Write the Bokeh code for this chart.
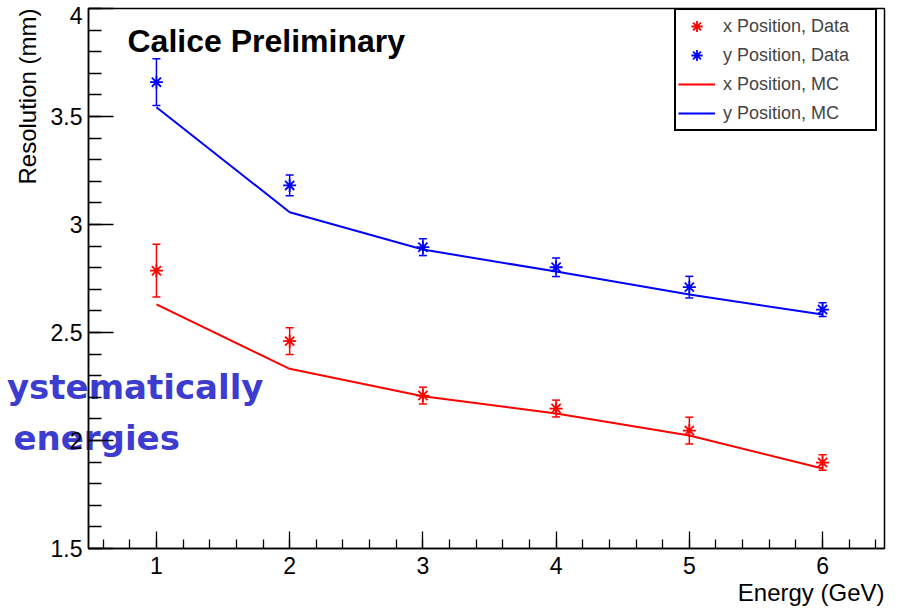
import math
from bokeh.plotting import figure
from bokeh.models import (ColumnDataSource, Whisker, TeeHead, Label, Legend, LegendItem,
                          FixedTicker, Range1d, CustomJSTickFormatter, Title)
from bokeh.embed import file_html
from bokeh.resources import INLINE

# ---- data ----
energy = [1, 2, 3, 4, 5, 6]
x_pos_data = [2.786, 2.460, 2.208, 2.148, 2.046, 1.898]
x_pos_err = [0.122, 0.062, 0.039, 0.039, 0.062, 0.036]
y_pos_data = [3.659, 3.181, 2.895, 2.802, 2.710, 2.606]
y_pos_err = [0.108, 0.048, 0.039, 0.043, 0.050, 0.032]
x_pos_mc = [2.630, 2.332, 2.205, 2.125, 2.023, 1.870]
y_pos_mc = [3.543, 3.057, 2.884, 2.782, 2.676, 2.583]

x_tick_values = [1, 2, 3, 4, 5, 6]
y_tick_values = [1.5, 2.0, 2.5, 3.0, 3.5, 4.0]
legend_labels = ["x Position, Data", "y Position, Data", "x Position, MC", "y Position, MC"]

X0, X1 = 0.49, 6.465
Y0, Y1 = 1.5, 4.0
FONT = "Liberation Sans"
W, H = 899, 613

# frame edges in window pixels
FL, FR, FT, FB = 88, 884, 8, 548
# extra canvas on the left (scrolled out of the window) so that texts which
# cross the frame edge can be laid out beside the frame without being clipped
EXTRA = 512

def dx(px):
    return X0 + (px - FL) * (X1 - X0) / (FR - FL)
def dy(py):
    return Y1 - (py - FT) * (Y1 - Y0) / (FB - FT)

p = figure(width=W + EXTRA, height=H, output_backend="svg", toolbar_location=None,
           x_range=Range1d(X0, X1), y_range=Range1d(Y0, Y1),
           min_border_left=FL + EXTRA, min_border_right=W - FR, min_border_top=FT,
           min_border_bottom=H - FB, margin=(0, 0, 0, -EXTRA))
p.grid.visible = False
p.outline_line_color = "black"
p.outline_line_width = 1.5
p.background_fill_color = "white"
p.border_fill_color = "white"

x_minor = [round(0.6 + 0.2 * i, 2) for i in range(30) if 0.6 + 0.2 * i < X1]
y_minor = [round(1.5 + 0.1 * i, 2) for i in range(26)]
p.xaxis.ticker = FixedTicker(ticks=x_tick_values, minor_ticks=x_minor)
p.yaxis.ticker = FixedTicker(ticks=y_tick_values, minor_ticks=y_minor)
p.xaxis.formatter = CustomJSTickFormatter(code="return String(Math.round(tick*10)/10)")
# the top label "4" is drawn separately (it sits below the canvas top edge)
p.yaxis.formatter = CustomJSTickFormatter(
    code="return tick > 3.99 ? '' : String(Math.round(tick*10)/10)")

for ax in (p.xaxis, p.yaxis):
    ax.axis_line_color = "black"
    ax.axis_line_width = 1.5
    ax.major_tick_line_color = "black"
    ax.minor_tick_line_color = "black"
    ax.major_tick_line_width = 1.3
    ax.minor_tick_line_width = 1.3
    ax.major_tick_out = 0
    ax.minor_tick_out = 0
    ax.major_label_text_font = FONT
    ax.major_label_text_font_size = "23px"
    ax.major_label_text_color = "black"
p.xaxis.major_tick_in = 17
p.xaxis.minor_tick_in = 9
p.yaxis.major_tick_in = 25
p.yaxis.minor_tick_in = 13
p.xaxis.major_label_standoff = 8
p.yaxis.major_label_standoff = 6
# y axis (ticks and labels) is drawn over the overlaid slide text, as in the reference
p.yaxis.level = "overlay"

src = ColumnDataSource(dict(
    e=energy, xd=x_pos_data, yd=y_pos_data,
    xl=[v - e for v, e in zip(x_pos_data, x_pos_err)],
    xu=[v + e for v, e in zip(x_pos_data, x_pos_err)],
    yl=[v - e for v, e in zip(y_pos_data, y_pos_err)],
    yu=[v + e for v, e in zip(y_pos_data, y_pos_err)],
    xm=x_pos_mc, ym=y_pos_mc))

r_xmc = p.line("e", "xm", source=src, line_color="red", line_width=2)
r_ymc = p.line("e", "ym", source=src, line_color="blue", line_width=2)

for col, lo, hi in (("red", "xl", "xu"), ("blue", "yl", "yu")):
    w = Whisker(base="e", lower=lo, upper=hi, source=src, line_color=col, line_width=1.5,
                upper_head=TeeHead(size=8, line_color=col, line_width=1.5),
                lower_head=TeeHead(size=8, line_color=col, line_width=1.5))
    p.add_layout(w)

r_xd = p.scatter("e", "xd", source=src, marker="asterisk", size=13,
                 line_color="red", line_width=1.8)
r_yd = p.scatter("e", "yd", source=src, marker="asterisk", size=13,
                 line_color="blue", line_width=1.8)

legend = Legend(items=[LegendItem(label=legend_labels[0], renderers=[r_xd]),
                       LegendItem(label=legend_labels[1], renderers=[r_yd]),
                       LegendItem(label=legend_labels[2], renderers=[r_xmc]),
                       LegendItem(label=legend_labels[3], renderers=[r_ymc])],
                location=(674 - FL, FB - 131), orientation="vertical",
                label_text_font=FONT, label_text_font_size="18px",
                glyph_width=37, glyph_height=28, label_height=28, label_width=150,
                label_standoff=8, spacing=1, padding=2, margin=0,
                border_line_color="black", border_line_width=2, border_line_alpha=1.0,
                background_fill_color="white", background_fill_alpha=1.0)
p.add_layout(legend)

# axis titles (ROOT style: aligned to the axis end)
p.add_layout(Title(text="Energy (GeV)", align="right", vertical_align="bottom",
                   text_font=FONT, text_font_size="24px", text_font_style="normal",
                   text_color="black", standoff=0), "below")
p.add_layout(Title(text="Resolution (mm)", align="right", text_font=FONT,
                   text_font_size="24px", text_font_style="normal", text_color="black",
                   standoff=14), "left")

p.add_layout(Label(x=dx(127), y=dy(40), text="Calice Preliminary", text_font=FONT,
                   text_font_size="32px", text_font_style="bold", text_align="left",
                   text_baseline="alphabetic", text_color="black"))

# texts that cross the frame's left edge: laid out in the left panel (unclipped)
p.add_layout(Label(x=dx(82), y=dy(14.5), text="4", text_font=FONT, text_font_size="23px",
                   text_align="right", text_baseline="middle", text_color="black"), "left")
p.add_layout(Label(x=dx(263), y=dy(386), text="ystematically", text_font="DejaVu Sans",
                   text_font_size="34px", text_font_style="bold", text_align="right",
                   text_baseline="alphabetic", text_color="#3c3ccf"), "left")
p.add_layout(Label(x=dx(13), y=dy(437), text="energies", text_font="DejaVu Sans",
                   text_font_size="34px", text_font_style="bold", text_align="left",
                   text_baseline="alphabetic", text_color="#3c3ccf"), "left")

open("out.html", "w").write(file_html(p, INLINE))
